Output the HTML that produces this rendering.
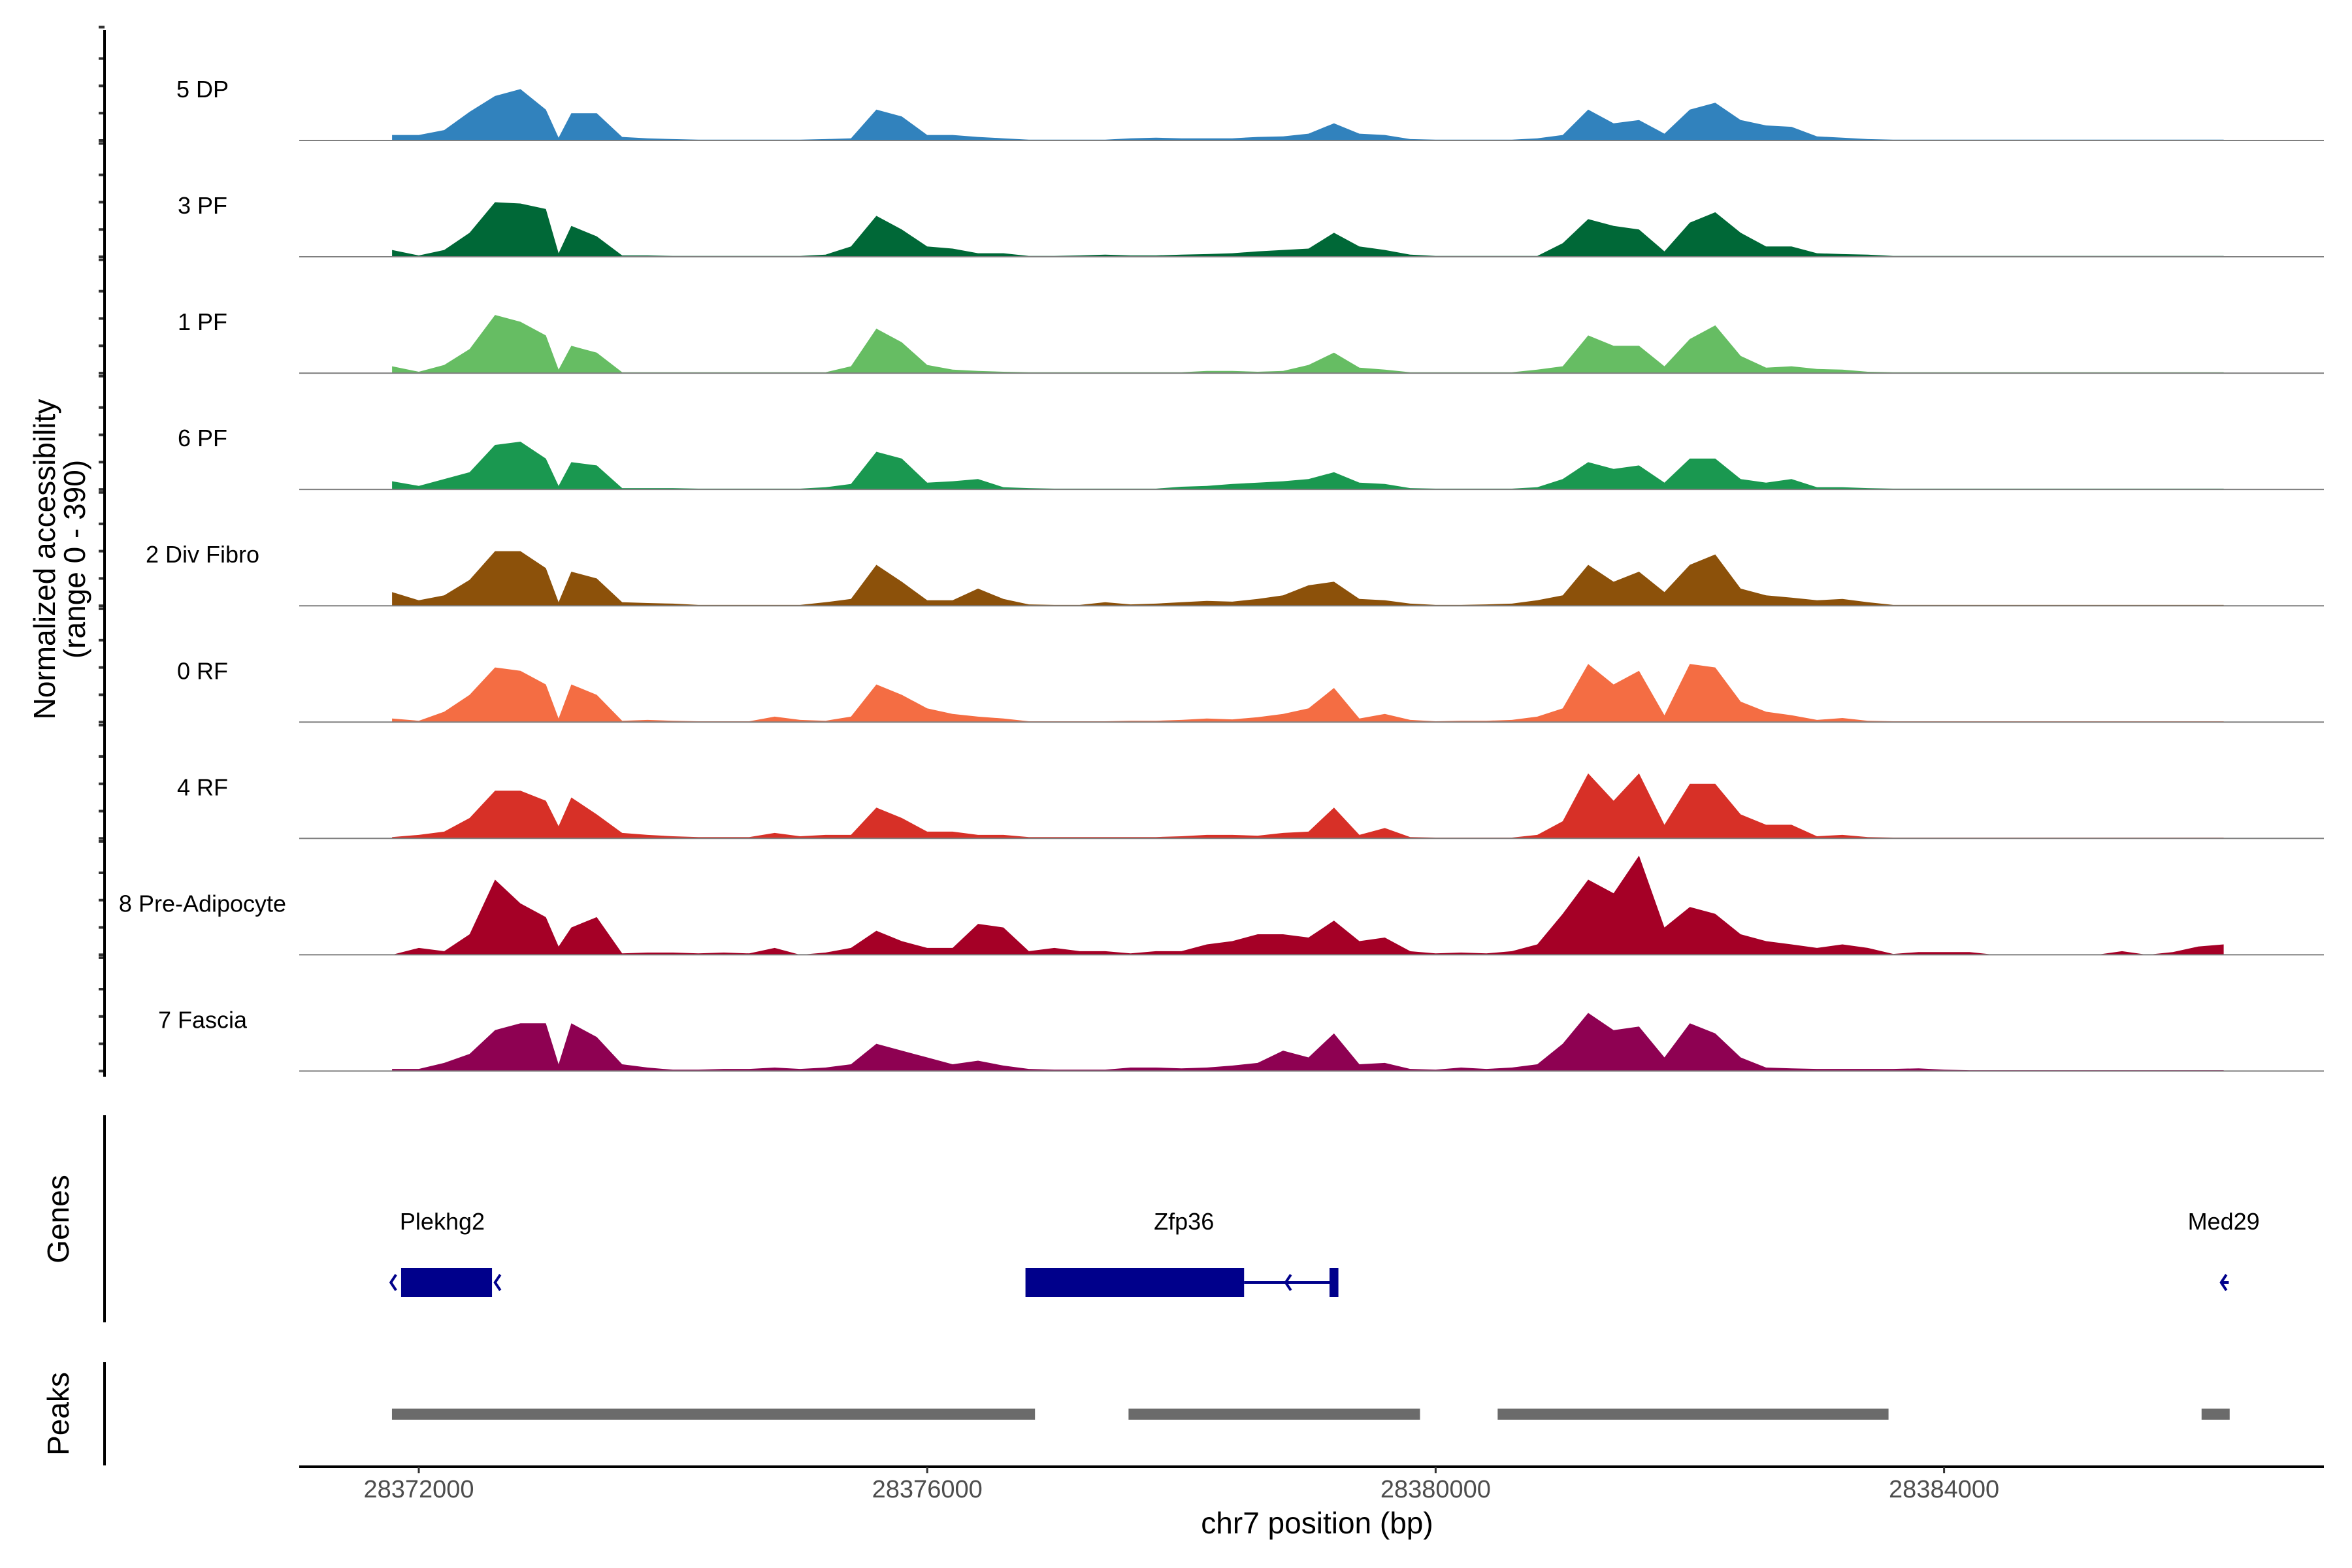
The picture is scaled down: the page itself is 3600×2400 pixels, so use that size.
<!DOCTYPE html>
<html><head><meta charset="utf-8"><style>
html,body{margin:0;padding:0;background:#fff;}
svg{display:block;font-family:"Liberation Sans",Arial,sans-serif;}
</style></head><body>
<svg id="chart" width="3600" height="2400" viewBox="0 0 3600 2400" xmlns="http://www.w3.org/2000/svg">
<rect x="0" y="0" width="3600" height="2400" fill="#fff"/>
<g id="tracks"></g>
<g id="yaxis"></g>
<text transform="translate(84,856) rotate(-90)" text-anchor="middle" font-size="46">Normalized accessibility</text>
<text transform="translate(130,856) rotate(-90)" text-anchor="middle" font-size="46">(range 0 - 390)</text>
<line x1="160" y1="1707" x2="160" y2="2024" stroke="#000" stroke-width="4"/>
<text transform="translate(105,1866) rotate(-90)" text-anchor="middle" font-size="46">Genes</text>
<line x1="160" y1="2085" x2="160" y2="2243" stroke="#000" stroke-width="4"/>
<text transform="translate(105,2164) rotate(-90)" text-anchor="middle" font-size="46">Peaks</text>
<g id="genes"></g>
<g id="peaks"></g>
<g id="xaxis"></g>
<text x="2016" y="2347" text-anchor="middle" font-size="46">chr7 position (bp)</text>
</svg>
<script>
const positions = [28371790,28372000,28372200,28372400,28372600,28372800,28373000,28373100,
28373200,28373400,28373600,28373800,28374000,28374200,28374400,28374600,28374800,28375000,
28375200,28375400,28375600,28375800,28376000,28376200,28376400,28376600,28376800,28377000,
28377200,28377400,28377600,28377800,28378000,28378200,28378400,28378600,28378800,28379000,
28379200,28379400,28379600,28379800,28380000,28380200,28380400,28380600,28380800,28381000,
28381200,28381400,28381600,28381800,28382000,28382200,28382400,28382600,28382800,28383000,
28383200,28383400,28383600,28383800,28384000,28384200,28384400,28384600,28384800,28385000,
28385200,28385400,28385600,28385800,28386000,28386200];
const trackNames = ["5 DP","3 PF","1 PF","6 PF","2 Div Fibro","0 RF","4 RF","8 Pre-Adipocyte","7 Fascia"];
const trackColors = ["#3182bd","#006837","#66bd63","#1a9850","#8c510a","#f46d43","#d73027","#a50026","#8e0152"];
const cov5DP = [20,20,38,105,163,188,113,10,100,100,13,8,5,3,3,3,3,3,5,8,113,88,20,20,13,8,3,3,3,3,8,10,8,8,8,13,15,25,63,25,20,5,3,3,3,3,8,20,113,63,75,25,113,138,75,55,50,15,10,5,3,3,3,3,3,3,3,3,3,3,3,3,3,3];
const cov3PF = [25,5,25,88,200,195,175,13,113,75,5,5,3,3,3,3,3,3,8,38,150,100,38,30,13,13,3,3,5,8,5,5,8,10,13,20,25,30,88,38,25,8,3,3,3,3,3,50,138,113,100,20,125,163,88,38,38,13,10,8,3,3,3,3,3,3,3,3,3,3,3,3,3,3];
const cov1PF = [25,5,30,88,213,188,138,13,100,75,3,3,3,3,3,3,3,3,3,25,163,113,30,13,8,5,3,3,3,3,3,3,3,8,8,5,8,30,75,20,13,3,3,3,3,3,13,25,138,100,100,25,125,175,63,20,25,15,13,5,3,3,3,3,3,3,3,3,3,3,3,3,3,3];
const cov6PF = [30,13,38,63,163,175,113,13,100,88,5,5,5,3,3,3,3,3,8,20,138,113,25,30,38,8,5,3,3,3,3,3,10,13,20,25,30,38,63,25,20,5,3,3,3,3,8,38,100,75,88,25,113,113,38,25,38,8,8,5,3,3,3,3,3,3,3,3,3,3,3,3,3,3];
const cov2DF = [50,20,38,95,200,200,138,13,125,100,13,10,8,3,3,3,3,3,13,25,150,88,20,20,63,25,5,3,3,13,5,8,13,18,15,25,38,75,88,25,20,8,3,3,5,8,20,38,150,88,125,50,150,188,63,38,30,20,25,13,3,3,3,3,3,3,3,3,3,3,3,3,3,3];
const cov0RF = [13,5,38,100,200,188,138,13,138,100,5,8,5,3,3,3,20,8,5,20,138,100,50,30,20,13,3,3,3,3,5,5,8,13,10,18,30,50,125,13,30,8,3,5,5,8,20,50,213,138,188,25,213,200,75,38,25,8,15,5,3,3,3,3,3,3,3,3,3,3,3,3,3,3];
const cov4RF = [5,13,25,75,175,175,138,45,150,88,20,13,8,5,5,5,20,8,13,13,113,75,25,25,13,13,5,5,5,5,5,5,8,13,13,10,20,25,113,13,38,5,3,3,3,3,13,63,238,138,238,50,200,200,88,50,50,8,13,5,3,3,3,3,3,3,3,3,3,3,3,3,3,3];
const cov8PA = [0,25,13,75,275,188,138,30,100,138,5,8,8,5,8,5,25,0,8,25,88,50,25,25,113,100,13,25,13,13,5,13,13,38,50,75,75,63,125,50,63,13,5,8,5,13,38,150,275,225,363,100,175,150,75,50,38,25,38,25,3,10,10,10,0,0,0,0,0,13,0,10,30,38];
const cov7FA = [8,8,30,63,150,175,175,25,175,125,25,13,5,5,8,8,13,8,13,25,100,75,50,25,38,20,8,5,5,5,13,13,10,13,20,30,75,50,138,25,30,8,5,13,8,13,25,100,213,150,163,50,175,138,50,13,10,8,8,8,8,10,5,3,3,3,3,3,3,3,3,3,3,3];
const coverage = [cov5DP,cov3PF,cov1PF,cov6PF,cov2DF,cov0RF,cov4RF,cov8PA,cov7FA];
const yTicks = [0,100,200,300,415];
const xTicks = [28372000,28376000,28380000,28384000];
const peakStarts = [28371789,28377584,28380488,28386026];
const peakEnds = [28376848,28379877,28383563,28386247];
const geneNames = ["Plekhg2","Zfp36","Med29"];
const geneLabelPos = [28372185,28378020,28386200];
</script>
<script>
const NS="http://www.w3.org/2000/svg";
const X0=641, BP0=28372000, PXBP=0.19455;
function xs(bp){return X0+(bp-BP0)*PXBP;}
const BASE0=215, SP=178.05, YPX=0.418;
function ys(t,v){return BASE0+t*SP - v*YPX;}
function mk(tag,attrs,parent){const e=document.createElementNS(NS,tag);for(const k in attrs)e.setAttribute(k,attrs[k]);parent.appendChild(e);return e;}
const tracks=document.getElementById('tracks');
const yaxis=document.getElementById('yaxis');
const AX_L=458, AX_R=3557;
coverage.forEach((vals,t)=>{
  const g=mk('g',{},tracks);
  
  
  const base=ys(t,0);
  let d='M'+xs(positions[0]).toFixed(1)+','+base.toFixed(1);
  for(let i=0;i<positions.length;i++){d+=' L'+xs(positions[i]).toFixed(1)+','+ys(t,vals[i]).toFixed(1);}
  d+=' L'+xs(positions[positions.length-1]).toFixed(1)+','+base.toFixed(1)+' Z';
  const p=mk('path',{d:d,fill:trackColors[t],stroke:'none'},g);
  
  
  const bl=mk('line',{x1:AX_L,y1:base,x2:AX_R,y2:base,stroke:'#7f7f7f','stroke-width':2},g);
  
  
  const lb=mk('text',{x:310,y:base-79+13,'text-anchor':'middle','font-size':36,fill:'#000'},g);
  
  
  lb.textContent=trackNames[t];
  yTicks.forEach(v=>{
    const tk=mk('line',{x1:151,y1:ys(t,v),x2:160,y2:ys(t,v),stroke:'#333','stroke-width':4},yaxis);
    
    
  });
});
const ya=mk('line',{x1:160,y1:46,x2:160,y2:1648,stroke:'#000','stroke-width':4},yaxis);



// genes
const genes=document.getElementById('genes');
const GC=1963, NAV='#00008b';
geneNames.forEach((n,i)=>{
  const t=mk('text',{x:xs(geneLabelPos[i]),y:1882,'text-anchor':'middle','font-size':36,fill:'#000'},genes);
  
  
  t.textContent=n;
});
function rect(b1,b2,y1,y2,name){const r=mk('rect',{x:xs(b1),y:y1,width:xs(b2)-xs(b1),height:y2-y1,fill:NAV},genes);return r;}
function arrow(x,name){const p=mk('path',{d:`M${x+8},${GC-12} L${x},${GC} L${x+8},${GC+12}`,fill:'none',stroke:NAV,'stroke-width':4},genes);}
rect(28371861,28372576,1941,1985,'plekhg2-exon');
arrow(xs(28371780),'plekhg2-arrow-left');
arrow(xs(28372600),'plekhg2-arrow-right');
rect(28376773,28378493,1941,1985,'zfp36-exon');
const zl=mk('line',{x1:xs(28378493),y1:GC,x2:xs(28379200),y2:GC,stroke:NAV,'stroke-width':4},genes);


arrow(xs(28378820),'zfp36-arrow');
rect(28379165,28379235,1941,1985,'zfp36-exon-2');
arrow(xs(28386180),'med29-arrow');
const ml=mk('line',{x1:xs(28386180),y1:GC,x2:xs(28386240),y2:GC,stroke:NAV,'stroke-width':4},genes);



// peaks
const peaks=document.getElementById('peaks');
peakStarts.forEach((s,i)=>{
  const r=mk('rect',{x:xs(s),y:2156,width:xs(peakEnds[i])-xs(s),height:17,fill:'#6b6b6b'},peaks);
  
  
});

// x axis
const xa=document.getElementById('xaxis');
const al=mk('line',{x1:AX_L,y1:2245,x2:AX_R,y2:2245,stroke:'#000','stroke-width':4},xa);


xTicks.forEach(v=>{
  const tk=mk('line',{x1:xs(v),y1:2245,x2:xs(v),y2:2255,stroke:'#333','stroke-width':3},xa);
  
  
  const tl=mk('text',{x:xs(v),y:2292,'text-anchor':'middle','font-size':38,fill:'#4d4d4d'},xa);
  
  
  tl.textContent=v;
});
</script>
</body></html>
